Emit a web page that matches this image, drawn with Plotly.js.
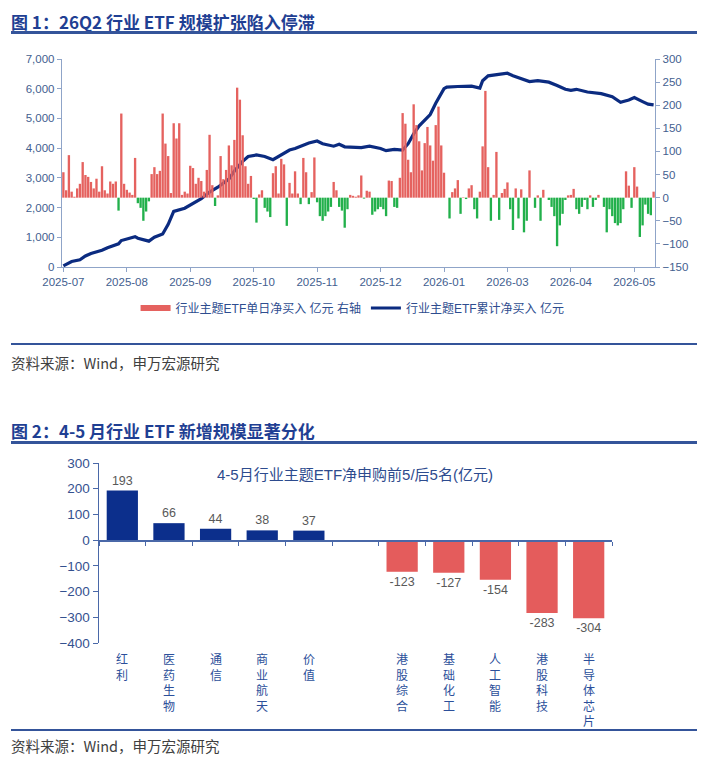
<!DOCTYPE html>
<html>
<head>
<meta charset="utf-8">
<script src="https://cdn.plot.ly/plotly-3.0.1.min.js"></script>
<style>
  body { margin: 0; width: 705px; height: 760px; background: #fff; position: relative; overflow: hidden;
         font-family: "Noto Sans CJK SC", "Liberation Sans", sans-serif; }
  .titulo { position: absolute; left: 11px; font-size: 17px; line-height: 20px; font-weight: bold; color: #1f3f93; white-space: nowrap; }
  .regla { position: absolute; left: 11px; width: 686px; background: #34549a; }
  .fuente { position: absolute; left: 11px; font-size: 14.5px; line-height: 18px; color: #404040; white-space: nowrap; }
  .grafico { position: absolute; left: 0; width: 705px; }
</style>
</head>
<body>

<div class="titulo" style="top:12px">图 1：26Q2 行业 ETF 规模扩张陷入停滞</div>
<div class="regla" style="top:31px;height:2.5px"></div>
<div id="grafico1" class="grafico" style="top:45px;height:290px"></div>
<div class="regla" style="top:343px;height:1.5px"></div>
<div class="fuente" style="top:354px">资料来源：Wind，申万宏源研究</div>

<div class="titulo" style="top:421px">图 2：4-5 月行业 ETF 新增规模显著分化</div>
<div class="regla" style="top:441px;height:2.5px"></div>
<div id="grafico2" class="grafico" style="top:450px;height:278px"></div>
<div class="regla" style="top:729px;height:1.5px"></div>
<div class="fuente" style="top:737px">资料来源：Wind，申万宏源研究</div>

<script>
// ---- Figura 1: flujo diario (eje derecho) y acumulado (eje izquierdo), por día hábil ----
const netoDiario = [
  55, 16, 92, 13, 2, 20, 30, 77, 49, 45, 34, 20, 41, 13, 68, 16, 9, 35, 30, 35, -28, 182,
  30, 17, 11, 6, 86, -12, -22, -50, -30, -8, 51, 66, 51, 58,
  182, 117, 90, 10, 161, 128, 161, 6, 13, 9,
  69, 64, 30, 43, 36, 13, 60, 136, 27, -18, 5,
  90, 40, 60, 113, 70, 125, 238, 212, 135, 68, 30, 47,
  -3, -54, 7, 16, -22, -30, -42, 53, 68, 9, 84, 72, -61, 32, 9, 57, 9, -14, 86, 55, -14, 12, 87,
  -10, -40, -50, -40, -30, -20, 34, 16, -20, -28, -65, -25,
  6, 4, 2, 5, 48,
  -2, 15, 13, -37, -30, -25, -20, -25, -40, 37, 36, -20, -22, 43, 183, 160, 82, 55, 202, 157,
  122, 59, 118, 153, 113, 80, 157, 197, 113, 54, 0, -45, 12, 20, 38, -35, 1, -3, 20, 27,
  -25, -45, 13, 111, 231, 66, -50, 6, 99, -48, 10, 19, 33, -25, -70, 20, -45, 18, -75, -50,
  59, 0, -22, 5, -50, 17, 0, -5, -20, -40, -105, -60, -35, -5, 5, 6, 19, -25, -35, -20,
  -5, -25, 5, -20, -5, 6, 0, -20, -75, -25, -40, -55, -60, -55, -25, 57, 26, -22, 66, 24,
  -85, -60, -15, -35, -38, 13
];

const acumIdx = [0, 2, 3, 6, 8, 10, 14, 16, 19, 20, 21, 23, 26, 27, 31, 33, 36, 38, 40, 44,
  47, 50, 53, 56, 60, 62, 65, 67, 70, 73, 76, 79, 82, 84, 87, 89, 92, 94, 98, 100,
  102, 105, 108, 111, 115, 117, 120, 123, 125, 127, 129, 133, 135, 138, 139, 143, 148, 151, 152, 154,
  156, 159, 161, 163, 166, 169, 172, 176, 179, 182, 184, 186, 190, 195, 199, 202, 205, 207, 210, 212, 214];
const acumValores = [40, 130, 185, 240, 370, 455, 565, 650, 730, 780, 890, 945, 1020, 970, 870, 1000, 1110, 1435, 1870, 1980,
  2140, 2300, 2520, 2685, 2960, 3230, 3555, 3720, 3770, 3720, 3610, 3770, 3935, 3990, 4100, 4175, 4240, 4150, 4065, 4130,
  4045, 4020, 4020, 4065, 3990, 3915, 3955, 3935, 4150, 4480, 4750, 5130, 5510, 6000, 6055, 6075, 6085, 6020, 6270, 6435,
  6455, 6490, 6520, 6435, 6350, 6240, 6270, 6220, 6110, 5980, 5945, 5980, 5890, 5835, 5730, 5545, 5620, 5700, 5565, 5480, 5455];

const fechasIdx = [0, 23, 46, 69, 92, 115, 138, 161, 184, 207];
const fechasTexto = ["2025-07", "2025-08", "2025-09", "2025-10", "2025-11", "2025-12", "2026-01", "2026-03", "2026-04", "2026-05"];

// ---- Figura 2: top 5 / bottom 5 ----
const sectores = ["红利", "医药生物", "通信", "商业航天", "价值", "", "港股综合", "基础化工", "人工智能", "港股科技", "半导体芯片"];
const netoSector = [193, 66, 44, 38, 37, null, -123, -127, -154, -283, -304];

const ROJO = "#e5625f";
const VERDE = "#22b04b";
const AZUL = "#0b2b80";
const EJE = "#8fa4c8";
const TEXTO_EJE = "#43608f";
const fuenteBase = "Liberation Sans, Arial, Noto Sans CJK SC, sans-serif";

const diasIdx = netoDiario.map((_, i) => i);

const barras = {
  type: "bar",
  x: diasIdx,
  y: netoDiario,
  yaxis: "y2",
  marker: { color: netoDiario.map(v => v >= 0 ? ROJO : VERDE) },
  showlegend: false,
  hoverinfo: "skip"
};

// solo para la leyenda (icono rectangular ancho como en el original)
const leyendaBarras = {
  type: "scatter",
  mode: "lines",
  x: [null],
  y: [null],
  yaxis: "y2",
  name: "行业主题ETF单日净买入 亿元 右轴",
  line: { color: ROJO, width: 6 },
  hoverinfo: "skip"
};

const linea = {
  type: "scatter",
  mode: "lines",
  x: acumIdx,
  y: acumValores,
  name: "行业主题ETF累计净买入 亿元",
  line: { color: AZUL, width: 3.2 },
  hoverinfo: "skip"
};

const layout1 = {
  width: 705,
  height: 290,
  margin: { l: 62, r: 50, t: 14, b: 61 },
  paper_bgcolor: "#fff",
  plot_bgcolor: "#fff",
  font: { family: fuenteBase, size: 11.5, color: TEXTO_EJE },
  bargap: 0.15,
  xaxis: {
    range: [-0.5, netoDiario.length - 0.5],
    tickvals: fechasIdx,
    ticktext: fechasTexto,
    ticks: "outside", ticklen: 4, tickcolor: EJE,
    showline: true, linecolor: EJE, linewidth: 1.2,
    showgrid: false, zeroline: false,
    tickfont: { size: 11.5, color: TEXTO_EJE }
  },
  yaxis: {
    range: [0, 7000],
    dtick: 1000,
    tickformat: ",",
    ticks: "outside", ticklen: 4, tickcolor: EJE,
    showline: true, linecolor: EJE, linewidth: 1.2,
    showgrid: false, zeroline: false,
    tickfont: { size: 11.5, color: TEXTO_EJE }
  },
  yaxis2: {
    range: [-150, 300],
    dtick: 50,
    overlaying: "y",
    side: "right",
    ticks: "outside", ticklen: 4, tickcolor: EJE,
    showline: true, linecolor: EJE, linewidth: 1.2,
    showgrid: false, zeroline: false,
    tickfont: { size: 11.5, color: TEXTO_EJE }
  },
  legend: {
    orientation: "h",
    x: 0.49, xanchor: "center",
    y: -0.197, yanchor: "middle",
    itemwidth: 30,
    font: { size: 12, color: "#2e4d8f", family: fuenteBase },
    traceorder: "normal"
  }
};

Plotly.newPlot("grafico1", [barras, leyendaBarras, linea], layout1, { displayModeBar: false, staticPlot: true });

// ---- figura 2 ----
const sectoresIdx = sectores.map((_, i) => i);
const yMin = -400, yMax = 300;

const barrasSector = {
  type: "bar",
  x: sectoresIdx,
  y: netoSector,
  marker: { color: netoSector.map(v => v >= 0 ? "#0c2f8c" : "#e45c5c") },
  text: netoSector.map(v => v === null ? "" : String(v)),
  textposition: "outside",
  textfont: { size: 12.5, color: "#595959", family: fuenteBase },
  cliponaxis: false,
  showlegend: false,
  hoverinfo: "skip"
};

// eje en el cero con marcas entre categorías
const ejeCero = { type: "scatter", x: [null], y: [null], xaxis: "x2", showlegend: false, hoverinfo: "skip" };

// nombres en vertical: un carácter por línea, un solo texto por categoría
const etiquetasVerticales = sectores.map((nombre, i) => ({
  x: i, xref: "x",
  y: 0, yref: "paper", yanchor: "top",
  yshift: -5,
  text: nombre.split("").join("<br>"),
  showarrow: false,
  align: "center",
  font: { size: 12, color: "#2c4f9a", family: "Noto Sans CJK SC, sans-serif" }
}));

const layout2 = {
  width: 705,
  height: 278,
  margin: { l: 99, r: 93, t: 13, b: 85 },
  paper_bgcolor: "#fff",
  plot_bgcolor: "#fff",
  font: { family: fuenteBase, color: "#2f4e8e" },
  bargap: 0.33,
  title: {
    text: "4-5月行业主题ETF净申购前5/后5名(亿元)",
    x: 0.5035, xanchor: "center",
    y: 0.91, yanchor: "middle", yref: "container",
    font: { size: 15, color: "#2d4b8e", family: fuenteBase }
  },
  xaxis: {
    range: [-0.5, sectores.length - 0.5],
    showticklabels: false,
    ticks: "", showline: false, showgrid: false, zeroline: false
  },
  xaxis2: {
    overlaying: "x",
    anchor: "free",
    position: (0 - yMin) / (yMax - yMin),
    range: [-0.5, sectores.length - 0.5],
    tickvals: sectoresIdx.concat([sectores.length]).map(i => i - 0.5),
    ticks: "outside", ticklen: 4, tickcolor: "#4a68a8",
    showline: true, linecolor: "#4a68a8", linewidth: 1.5,
    showticklabels: false, showgrid: false, zeroline: false
  },
  yaxis: {
    range: [yMin, yMax],
    dtick: 100,
    ticks: "outside", ticklen: 5, tickcolor: "#4a68a8",
    showline: true, linecolor: "#4a68a8", linewidth: 1.5,
    showgrid: false, zeroline: false,
    tickfont: { size: 13.5, color: "#34518f" }
  },
  annotations: etiquetasVerticales
};

Plotly.newPlot("grafico2", [barrasSector, ejeCero], layout2, { displayModeBar: false, staticPlot: true });
</script>
</body>
</html>
